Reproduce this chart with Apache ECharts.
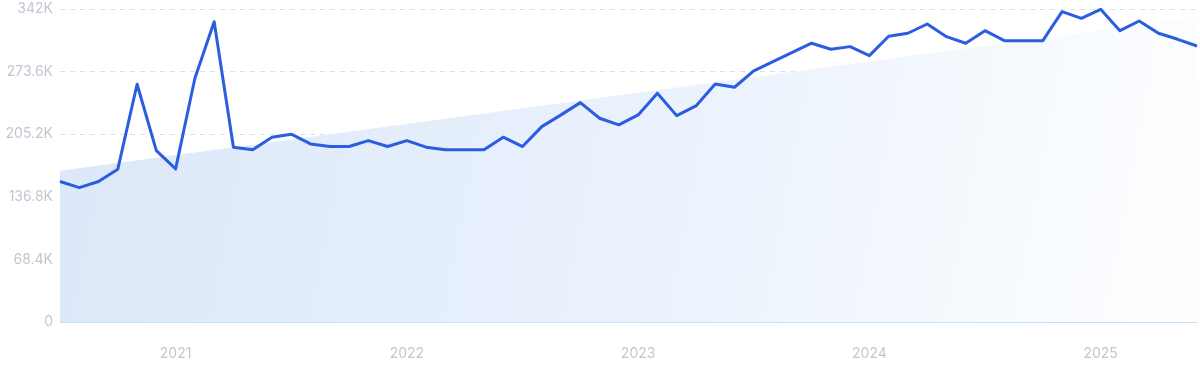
<!DOCTYPE html>
<html>
<head>
<meta charset="utf-8">
<script src="https://cdn.jsdelivr.net/npm/echarts@6/dist/echarts.min.js"></script>
<style>
html,body{margin:0;padding:0;background:#fff;}
#chart{width:1200px;height:371px;}
</style>
</head>
<body>
<div id="chart"></div>
<script>
// Months from Jul 2020 to Jun 2025
const months = [
  "2020-07","2020-08","2020-09","2020-10","2020-11","2020-12",
  "2021-01","2021-02","2021-03","2021-04","2021-05","2021-06","2021-07","2021-08","2021-09","2021-10","2021-11","2021-12",
  "2022-01","2022-02","2022-03","2022-04","2022-05","2022-06","2022-07","2022-08","2022-09","2022-10","2022-11","2022-12",
  "2023-01","2023-02","2023-03","2023-04","2023-05","2023-06","2023-07","2023-08","2023-09","2023-10","2023-11","2023-12",
  "2024-01","2024-02","2024-03","2024-04","2024-05","2024-06","2024-07","2024-08","2024-09","2024-10","2024-11","2024-12",
  "2025-01","2025-02","2025-03","2025-04","2025-05","2025-06"
];
const values = [
  153500,146900,153500,167000,259800,187300,
  167300,266300,328100,191000,188100,201900,205200,194600,191700,191700,198200,191700,
  198200,191000,188100,188100,188100,201900,191700,213500,226300,239700,222600,215400,
  226300,250000,225500,236100,260100,256500,274300,284500,294700,304600,298000,300900,
  291000,312200,315500,325600,311800,304600,318300,307400,307400,307400,339100,331800,
  341700,318300,328900,315500,308900,301600
];
// Trend line endpoints (first month, last month)
const trendX = [0, 59];
const trendValues = [165200, 333000];
const yTicks = [0, 68400, 136800, 205200, 273600, 342000];

function fmtY(v){
  if (v === 0) return "0";
  const k = v / 1000;
  return (Math.round(k*10)/10) + "K";
}

const chart = echarts.init(document.getElementById('chart'), null, {renderer:'canvas'});
const labelColor = '#c3c6d1';
chart.setOption({
  animation:false,
  grid:{left:60,right:3,top:9,bottom:49,containLabel:false},
  xAxis:[{
    type:'category',
    data:months,
    boundaryGap:false,
    axisLine:{show:true,lineStyle:{color:'#c9e2fa',width:1}},
    axisTick:{show:false},
    splitLine:{show:false},
    axisLabel:{
      color:labelColor,fontSize:14,fontFamily:'Inter, "Noto Sans", sans-serif',margin:25,
      interval:(i,v)=>v.endsWith('-01'),
      formatter:(v)=>v.slice(0,4)
    }
  },{
    type:'value',min:0,max:59,show:false
  }],
  yAxis:{
    type:'value',min:0,max:342000,interval:68400,
    axisLine:{show:false},axisTick:{show:false},
    axisLabel:{color:labelColor,fontSize:14,fontFamily:'Inter, "Noto Sans", sans-serif',margin:7,formatter:fmtY},
    splitLine:{show:true,lineStyle:{color:'#d2e2f6',type:[5,5],width:1}}
  },
  series:[{
    type:'line',
    xAxisIndex:1,
    data:trendX.map((x,i)=>[x,trendValues[i]]),
    symbol:'none',
    lineStyle:{width:0,opacity:0},
    areaStyle:{
      opacity:1,
      color:new echarts.graphic.LinearGradient(0,0,1,0.7,[
        {offset:0,color:'#dbe8f9'},
        {offset:0.5,color:'#e9f1fc'},
        {offset:1,color:'#fdfeff'}
      ])
    },
    z:1,silent:true
  },{
    type:'line',
    data:values,
    symbol:'none',
    lineStyle:{color:'#2b5de0',width:3,join:'round'},
    z:3
  }]
});
</script>
</body>
</html>
